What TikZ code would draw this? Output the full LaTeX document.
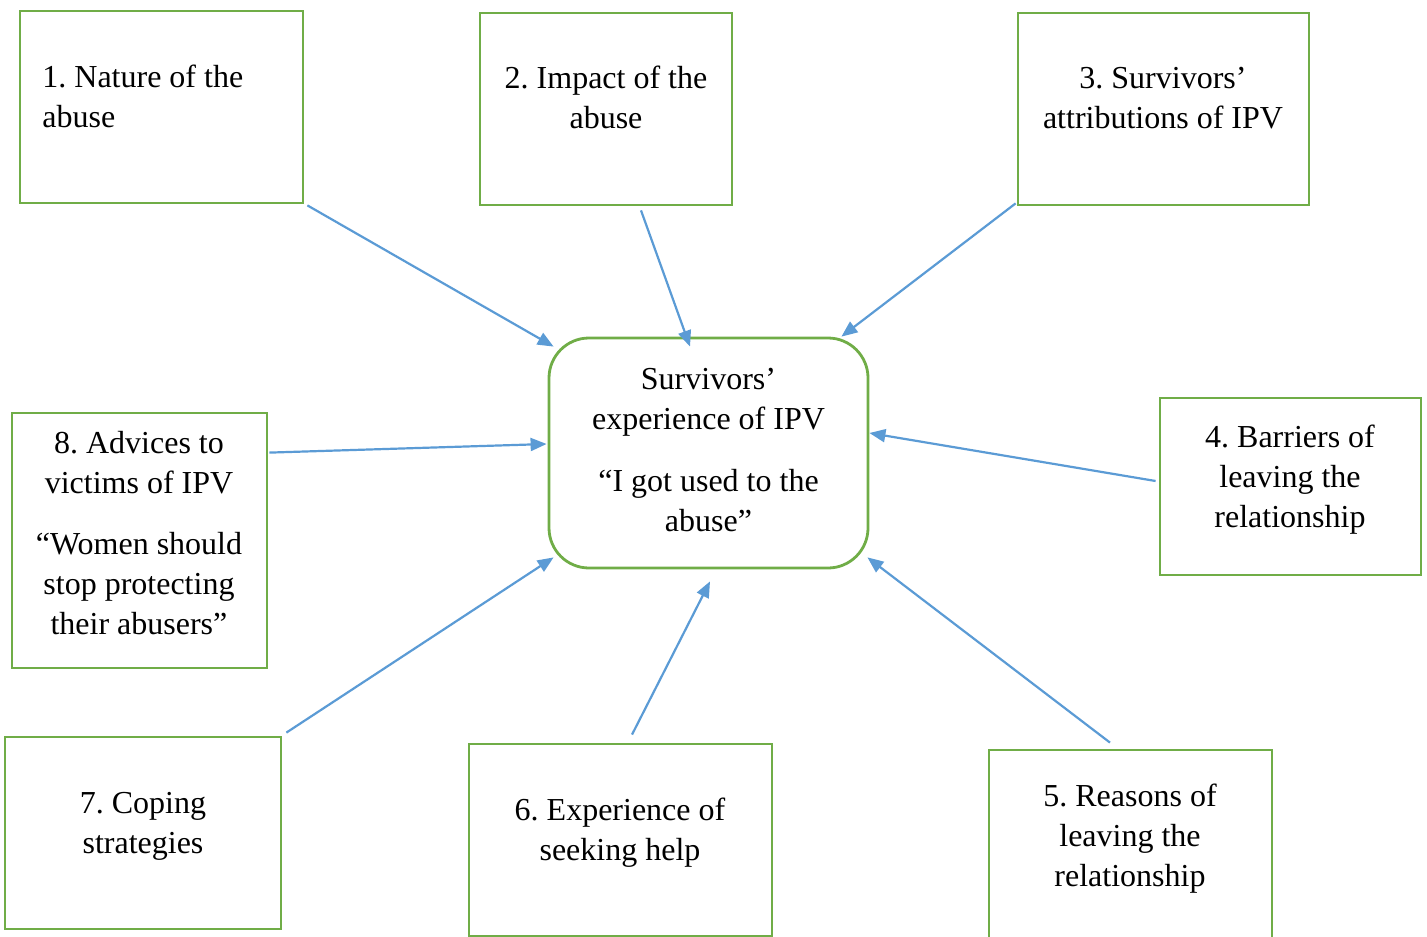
\documentclass[tikz,border=0pt]{standalone}
\usepackage{fontspec}
\setmainfont{Liberation Serif}
\usetikzlibrary{arrows.meta}
\definecolor{framegreen}{RGB}{112,173,71}
\definecolor{linkblue}{RGB}{91,155,213}
\frenchspacing

\begin{document}
\begin{tikzpicture}[x=0.5pt,y=-0.5pt,
		themebox/.style={draw=framegreen,line width=1.4pt,minimum width=#1},
		themetext/.style={inner sep=0pt,align=center,font=\fontsize{16}{20}\selectfont},
		link/.style={draw=linkblue,line width=1.1pt,-{Triangle[length=8pt,width=6.5pt]}}]
				\useasboundingbox (0,0) rectangle (1427,936);
				% outer themes
				\node[themebox=141.5pt,minimum height=96pt] (b1) at (161.5,107) {};
				\node[themebox=126pt,minimum height=96pt] (b2) at (606,109) {};
				\node[themebox=145.5pt,minimum height=96pt] (b3) at (1163.5,109) {};
				\node[themebox=130.5pt,minimum height=88.5pt] (b4) at (1290.5,486.5) {};
				\node[themebox=141.5pt,minimum height=96pt] (b5) at (1130.5,846) {};
				\node[themebox=151.5pt,minimum height=96pt] (b6) at (620.5,840) {};
				\node[themebox=138pt,minimum height=96pt] (b7) at (143,833) {};
				\node[themebox=127.5pt,minimum height=127.5pt] (b8) at (139.5,540.5) {};
				% core theme
				\node[themebox=159.5pt,minimum height=115pt,rounded corners=20pt] (core) at (708.5,453) {};

				\node[themetext,align=left,anchor=west] (t1) at (42,96.3) {1. Nature of the\\abuse};
				\node[themetext] (t2) at (606,97.8) {2. Impact of the\\abuse};
				\node[themetext] (t3) at (1163,98.3) {3. Survivors’\\attributions of IPV};
				\node[themetext] (t4) at (1290,479.8) {4. Barriers of\\leaving the\\relationship};
				\node[themetext] (t5) at (1130,838.8) {5. Reasons of\\leaving the\\relationship};
				\node[themetext] (t6) at (620,832.3) {6. Experience of\\seeking help};
				\node[themetext] (t7) at (143,826.3) {7. Coping\\strategies};
				\node[themetext] (t8) at (139,532.8) {8. Advices to\\victims of IPV\\[10.5pt]“Women should\\stop protecting\\their abusers”};
				\node[themetext] (tc) at (708.5,450.3) {Survivors’\\experience of IPV\\[11pt]“I got used to the\\abuse”};

				\draw[link] ([shift={(3,1)}]b1.south east) -- ([shift={(6,10)}]core.north west);
				\draw[link] ([shift={(35,4)}]b2.south) -- ([shift={(-18.5,10)}]core.north);
				\draw[link] ([shift={(-1,-3)}]b3.south west) -- ([shift={(-28,0)}]core.north east);
				\draw[link] ([shift={(-3,-5.5)}]b4.west) -- ([shift={(0,-20)}]core.east);
				\draw[link] ([shift={(-20.5,-6)}]b5.north) -- ([shift={(-2,-12)}]core.south east);
				\draw[link] ([shift={(11.5,-8)}]b6.north) -- ([shift={(1.5,12)}]core.south);
				\draw[link] ([shift={(4,-3)}]b7.north east) -- ([shift={(6,-12)}]core.south west);
				\draw[link] ([shift={(1,41)}]b8.north east) -- ([shift={(-1,-9)}]core.west);
			\end{tikzpicture}
\end{document}
